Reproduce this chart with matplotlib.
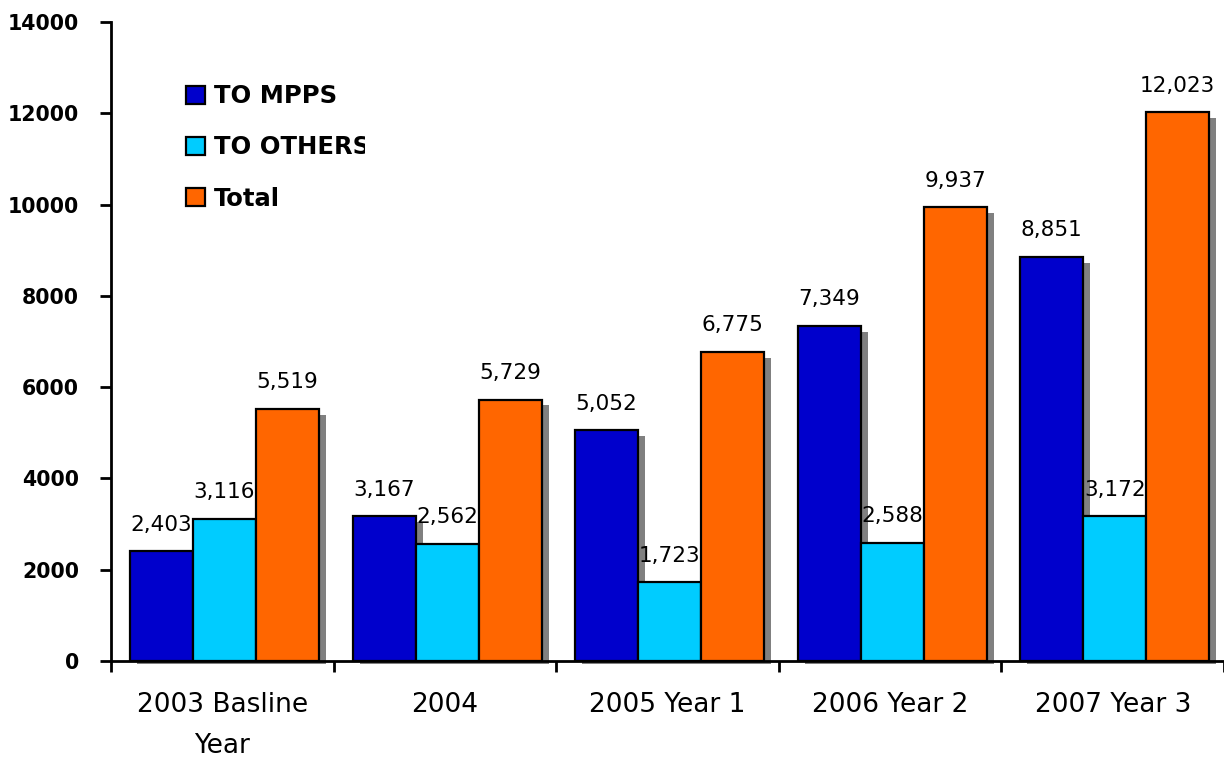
import numpy as np
import matplotlib
matplotlib.use('Agg')
import matplotlib.pyplot as plt
from matplotlib.transforms import Bbox, TransformedBbox

# referral counts per year
categories = ['2003 Basline\nYear', '2004', '2005 Year 1', '2006 Year 2', '2007 Year 3']
to_mpps = [2403, 3167, 5052, 7349, 8851]
to_others = [3116, 2562, 1723, 2588, 3172]
total = [5519, 5729, 6775, 9937, 12023]

series = [('TO MPPS', to_mpps, '#0000CC'),
          ('TO OTHERS', to_others, '#00CCFF'),
          ('Total', total, '#FF6600')]

fig = plt.figure(figsize=(12.24, 7.57), dpi=100)
ax = fig.add_axes([0.0907, 0.1268, 0.9093, 0.8441])

x = np.arange(len(categories))
width = 0.283
first = 0.085

handles = []
for k, (name, vals, col) in enumerate(series):
    left = x + first + k * width
    # drop shadow behind each bar
    ax.bar(left + 0.032, np.array(vals) - 130 + 70, width, bottom=-70, align='edge',
           color='#808080', edgecolor='none', zorder=1, clip_on=False)
    b = ax.bar(left, vals, width, align='edge', color=col,
               edgecolor='black', linewidth=1.6, zorder=3, label=name)
    handles.append(b)
    for xi, v in zip(left, vals):
        ax.annotate('{:,}'.format(v), (xi + width / 2, v), xytext=(0, 12),
                    textcoords='offset points', ha='center', va='bottom',
                    fontsize=15.5, family='DejaVu Sans', zorder=2)

ax.set_xlim(0, 5)
ax.set_ylim(0, 14000)
ax.set_yticks(np.arange(0, 14001, 2000))
ax.set_yticklabels([str(v) for v in range(0, 14001, 2000)],
                   fontsize=14.8, fontweight='bold', family='DejaVu Sans')

# group separators as major ticks, names as minor ticks
ax.set_xticks(np.arange(0, 6))
ax.set_xticklabels([])
ax.set_xticks(x + 0.5, minor=True)
ax.set_xticklabels(categories, minor=True, fontsize=19, family='DejaVu Sans',
                   linespacing=1.75)
ax.tick_params(axis='x', which='minor', length=0, pad=22)
ax.tick_params(axis='x', which='major', length=8, width=2, direction='out')
ax.tick_params(axis='y', length=8, width=2, direction='out', pad=15)

for s in ['top', 'right']:
    ax.spines[s].set_visible(False)
for s in ['left', 'bottom']:
    ax.spines[s].set_linewidth(2)
    ax.spines[s].set_zorder(4)

leg = ax.legend(handles=handles, loc='upper left', bbox_to_anchor=(0.048, 0.937),
                frameon=False, handlelength=0.75, handleheight=0.75,
                handletextpad=0.38, labelspacing=1.12,
                prop={'family': 'DejaVu Sans', 'weight': 'bold', 'size': 17.5})
# the legend box is cut off on its right side
clip = TransformedBbox(Bbox([[0, 0], [365 / 1224, 1]]), fig.transFigure)
for t in leg.get_texts():
    t.set_clip_box(clip)
    t.set_clip_on(True)

fig.savefig('out.png', dpi=100)
